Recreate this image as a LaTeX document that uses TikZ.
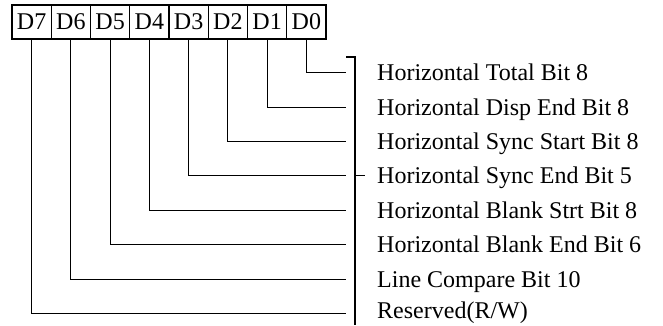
\documentclass[tikz,border=0pt]{standalone}
\usepackage{fontspec}
\setmainfont{Liberation Serif}
\usepackage{tikz}
\usetikzlibrary{positioning}

\begin{document}
\begin{tikzpicture}[
  x=1pt, y=-1pt,
  node distance=0pt,
  bitbox/.style={draw, line width=1.1pt, minimum width=39.25pt, minimum height=34pt, inner sep=0pt, outer sep=0pt, font=\fontsize{24}{28}\selectfont},
  lbl/.style={anchor=base west, inner sep=0pt, font=\fontsize{24}{28}\selectfont},
  wire/.style={line width=1.1pt}]
  \useasboundingbox (0,0) rectangle (663,325);
  % register bits
  \node[bitbox] (b7) at (31.6,22) {D7};
  \node[bitbox, right=of b7] (b6) {D6};
  \node[bitbox, right=of b6] (b5) {D5};
  \node[bitbox, right=of b5] (b4) {D4};
  \node[bitbox, right=of b4] (b3) {D3};
  \node[bitbox, right=of b3] (b2) {D2};
  \node[bitbox, right=of b2] (b1) {D1};
  \node[bitbox, right=of b1] (b0) {D0};
  % field names
  \node[lbl] (t0) at (377,80.7)  {Horizontal Total Bit 8};
  \node[lbl] (t1) at (377,115.1) {Horizontal Disp End Bit 8};
  \node[lbl] (t2) at (377,149.5) {Horizontal Sync Start Bit 8};
  \node[lbl] (t3) at (377,183.9) {Horizontal Sync End Bit 5};
  \node[lbl] (t4) at (377,218.3) {Horizontal Blank Strt Bit 8};
  \node[lbl] (t5) at (377,252.7) {Horizontal Blank End Bit 6};
  \node[lbl] (t6) at (377,287.1) {Line Compare Bit 10};
  \node[lbl] (t7) at (377,318.8) {Reserved(R/W)};
  % wire ends
  \coordinate (e0) at (346,72.7);
  \coordinate (e1) at (346,107.1);
  \coordinate (e2) at (346,141.5);
  \coordinate (e3) at (346,175.9);
  \coordinate (e4) at (346,210.3);
  \coordinate (e5) at (346,244.7);
  \coordinate (e6) at (346,279.1);
  \coordinate (e7) at (346,313.5);
  \draw[wire] (b0.south) |- (e0);
  \draw[wire] (b1.south) |- (e1);
  \draw[wire] (b2.south) |- (e2);
  \draw[wire] (b3.south) |- (e3);
  \draw[wire] (b4.south) |- (e4);
  \draw[wire] (b5.south) |- (e5);
  \draw[wire] (b6.south) |- (e6);
  \draw[wire] (b7.south) |- (e7);
  % bracket
  \coordinate (bt) at (355,57);
  \coordinate (bb) at (355,325);
  \coordinate (bk) at (365,175.9);
  \draw[wire] (346,57) -- (bt) -- (bb);
  \draw[wire] (bt |- bk) -- (bk);
\end{tikzpicture}
\end{document}
